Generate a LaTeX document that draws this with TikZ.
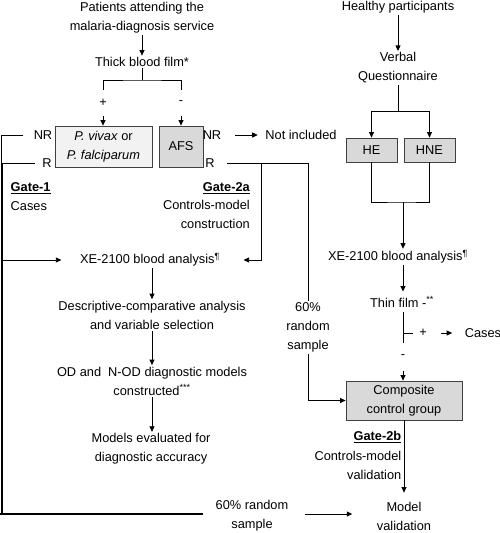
\documentclass[tikz,border=0pt]{standalone}
\usepackage{fontspec}
\setmainfont{Liberation Sans}
\usetikzlibrary{arrows.meta,calc}
\definecolor{boxline}{HTML}{404040}
\definecolor{lightfill}{HTML}{F2F2F2}
\definecolor{grayfill}{HTML}{D9D9D9}
\begin{document}
\begin{tikzpicture}[x=1pt,y=-1pt,
  txt/.style={align=center,inner sep=1.5pt,font=\fontsize{12.8}{19}\selectfont},
  box/.style={txt,draw=boxline,line width=0.8pt,inner sep=0pt},
  ln/.style={line width=0.8pt},
  arr/.style={ln,-{Triangle[length=5.5pt,width=5pt]}},
]
\useasboundingbox (0,0) rectangle (500,533);
% left column nodes
\node[txt] (pat) at (142,18) {Patients attending the\\malaria-diagnosis service};
\node[txt] (thick) at (142,62) {Thick blood film*};
\node[txt,minimum height=26pt] (plus) at (103,103) {+};
\node[txt,minimum height=26pt] (minus) at (181,103) {-};
\node[box,fill=lightfill,minimum width=97pt,minimum height=41pt] (pv) at (103.5,146.5) {\textit{P. vivax} or\\\textit{P. falciparum}};
\node[box,fill=grayfill,minimum width=44pt,minimum height=41pt] (afs) at (181,146.5) {AFS};
\node[txt] (nrl) at (43,135) {NR};
\node[txt] (rl) at (47,163) {R};
\node[txt] (nrr) at (212,135) {NR};
\node[txt] (rr) at (210,163) {R};
\node[txt] (ni) at (301,135) {Not included};
\node[txt,anchor=west] (g1) at (9,188) {\textbf{\underline{Gate-1}}};
\node[txt,anchor=west] (cases1) at (9,206) {Cases};
\node[txt,anchor=east] (g2a) at (251.5,188) {\textbf{\underline{Gate-2a}}};
\node[txt,anchor=east,align=right] (cm1) at (251.5,214) {Controls-model\\construction};
\node[txt] (xe1) at (150,260) {XE-2100 blood analysis\textsuperscript{¶}};
\node[txt] (desc) at (152,315) {Descriptive-comparative analysis\\and variable selection};
\node[txt] (od) at (152,381) {OD and\ \ N-OD diagnostic models\\constructed\textsuperscript{***}};
\node[txt] (mev) at (151,449) {Models evaluated for\\diagnostic accuracy};
\node[txt] (rs1) at (252,515.5) {60\% random\\sample};
% right column nodes
\node[txt] (hp) at (398,7) {Healthy participants};
\node[txt] (vq) at (398,68) {Verbal\\Questionnaire};
\node[box,fill=grayfill,minimum width=51pt,minimum height=24pt] (he) at (371.5,150) {HE};
\node[box,fill=grayfill,minimum width=51pt,minimum height=24pt] (hne) at (429.5,150) {HNE};
\node[txt] (xe2) at (398,257) {XE-2100 blood analysis\textsuperscript{¶}};
\node[txt,inner ysep=5pt] (thin) at (402,302) {Thin film -\textsuperscript{**}};
\node[txt] (plus2) at (423,333) {+};
\node[txt] (cases2) at (483,333) {Cases};
\node[txt,minimum height=28pt] (minus2) at (403,357) {-};
\node[txt] (rs2) at (308,327.5) {60\%\\random\\sample};
\node[box,fill=grayfill,minimum width=116pt,minimum height=39pt] (comp) at (404,400.5) {Composite\\control group};
\node[txt,anchor=east] (g2b) at (403,437) {\textbf{\underline{Gate-2b}}};
\node[txt,anchor=east,align=right] (cm2) at (403,465.5) {Controls-model\\validation};
\node[txt,inner ysep=9pt] (mv) at (404,516) {Model\\validation};
% coordinates
\coordinate (bj) at (142,80);
\coordinate (l1) at (1.0,135);
\coordinate (l2) at (2.6,163);
\coordinate (bot) at (0,514);
\coordinate (rj) at (261,163);
\coordinate (qj) at (398,111);
\coordinate (hj) at (403,202);
\coordinate (tk) at (403,333);
\coordinate (tk2) at (413,333);
% connectors left
\draw[arr] (pat.south) -- (thick.north);
\draw[ln] (thick.south) -- (bj);
\draw[ln] (plus.north) |- (bj) -| (minus.north);
\draw[arr] (plus.south) -- (plus.south |- pv.north);
\draw[arr] (minus.south) -- (afs.north);
\draw[ln,shorten <=9pt] (nrl.west) -- (l1) -- (l1 |- bot);
\draw[ln,shorten <=6pt] (rl.west) -- (l2) -- (l2 |- bot);
\draw[arr,shorten >=17pt] (l2 |- xe1) -- (xe1.west);
\draw[line width=1.6pt,shorten >=11pt] (bot) -- (rs1.west |- bot);
\draw[arr,shorten <=15pt,shorten >=23pt] (rs1.east |- bot) -- (mv.west |- bot);
\draw[arr] (xe1.south -| desc.north) -- (desc.north);
\draw[arr] (desc.south) -- (od.north);
\draw[arr] (od.south) -- (od.south |- mev.north);
% middle
\draw[arr,shorten <=12pt,shorten >=6pt] (nrr.east) -- (ni.west);
\draw[ln,shorten <=11pt] (rr.east) -- (rr.east -| rs2.north) -- (rs2.north);
\draw[arr,shorten >=22pt] (rj) |- (xe1.east);
\draw[arr] (rs2.south) |- (comp.west);
% right
\draw[arr] (hp.south) -- (vq.north);
\draw[ln] (vq.south) -- (qj);
\draw[arr] (qj) -| (he.north);
\draw[arr] (qj) -| (hne.north);
\draw[ln] (he.south) |- (hj) -| (hne.south);
\draw[arr] (hj) -- (hj |- xe2.north);
\draw[arr] (xe2.south -| hj) -- (hj |- thin.north);
\draw[ln] (thin.south -| tk) -- (tk |- minus2.north);
\draw[ln] (tk) -- (tk2);
\draw[arr,shorten <=13pt,shorten >=11pt] (plus2.east) -- (cases2.west);
\draw[arr] (minus2.south) -- (minus2.south |- comp.north);
\draw[arr] (comp.south) -- (mv.north);
\end{tikzpicture}
\end{document}
